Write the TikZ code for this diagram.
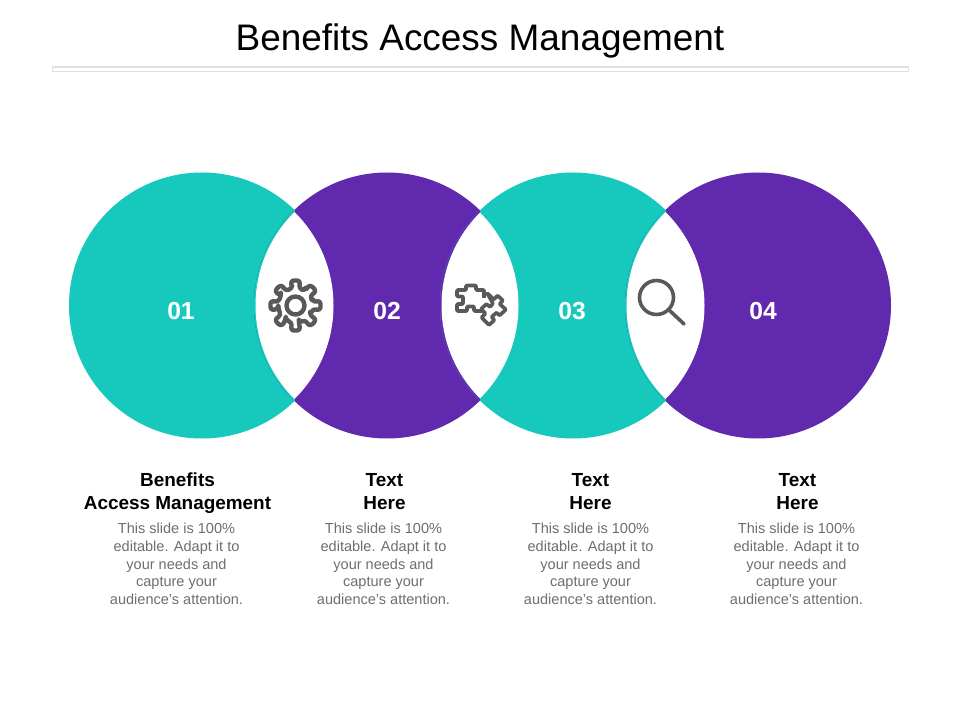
\documentclass[tikz,border=0pt]{standalone}
\usepackage{fontspec}
\setmainfont{Liberation Sans}
\definecolor{teal}{HTML}{16C9BC}
\definecolor{purp}{HTML}{612AAE}
\definecolor{icon}{HTML}{595959}
\definecolor{body}{HTML}{6E6E6E}
\definecolor{rule}{HTML}{E0E0E0}
\tikzset{
  num/.style={text=white,font=\fontsize{18.5}{20}\selectfont\bfseries,inner sep=0pt},
  head/.style={text=black,align=center,font=\fontsize{14.2}{17.2}\selectfont\bfseries,inner sep=0pt},
  copytext/.style={text=body,align=center,font=\fontsize{10.9}{13.2}\selectfont,inner sep=0pt},
  glyph/.style={draw=icon,line width=2.7pt,line join=round}
}
\begin{document}
\begin{tikzpicture}[x=0.75pt,y=-0.75pt]
\useasboundingbox (0,0) rectangle (960,720);
\fill[white] (0,0) rectangle (960,720);
\node[text=black,font=\fontsize{27.7}{30}\selectfont,inner sep=0pt] (title) at (480,41) {Benefits Access Management};
\draw[rule,line width=0.8pt] (52.5,67) rectangle (908.5,71.5);
\fill[teal] (202,305.5) circle [radius=133];
\fill[purp] (387,305.5) circle [radius=133];
\fill[teal] (573,305.5) circle [radius=133];
\fill[purp] (758,305.5) circle [radius=133];
\foreach \l/\r/\cl/\cr in {202/387/teal/purp,387/573/purp/teal,573/758/teal/purp} {
  \begin{scope}
    \clip (\l,305.5) circle [radius=133];
    \clip (\r,305.5) circle [radius=133];
    \fill[\cl] (\l,150) rectangle ({(\l+\r)/2},460);
    \fill[\cr] ({(\l+\r)/2},150) rectangle (\r,460);
  \end{scope}
  \begin{scope}
    \clip (\l,305.5) circle [radius=131.5];
    \fill[white] (\r,305.5) circle [radius=131.5];
  \end{scope}
}
\node[num] (n1) at (181,311) {01};
\node[num] (n2) at (387,311) {02};
\node[num] (n3) at (572,311) {03};
\node[num] (n4) at (763,311) {04};
% gear
\begin{scope}[shift={(295.5,305.5)}]
\draw[glyph,line width=3.3pt,rounded corners=2.4pt]
 \foreach \a in {0,45,...,315} {
  \ifnum\a=0 (\a-11:17.5) \else -- (\a-11:17.5) \fi
  -- (\a-11:25.5) -- (\a+11:25.5) -- (\a+11:17.5) -- (\a+34:17.5)
 } -- cycle;
\draw[glyph,line width=3.3pt] (0,0) circle [radius=9];
\end{scope}
% puzzle
\draw[glyph,rounded corners=0.6pt]
 (482,311) -- (474,311) -- (474,306.5) -- (467,306.5) -- (467,311) -- (457,311) -- (457,304) -- (463,304) -- (463,296.5) -- (457,296.5) -- (457,290) -- (466,290) -- (466,285.5) -- (476,285.5) -- (476,290) -- (484,290) -- (484,298);
\draw[glyph,rounded corners=0.6pt]
 (487,293) -- (494,299.5) -- (497.5,295.5) -- (503,300.5) -- (499.5,304) -- (506,309.5) -- (499.5,315.5) -- (496.5,312.5) -- (491.5,317) -- (494.5,320) -- (489,325) -- (481.5,317.5) -- (485.5,313.5) -- (481,309) -- (486.5,304) -- (490,307) -- (493,303.5) -- cycle;
% magnifier
\draw[glyph] (656.5,297.5) circle [radius=17];
\draw[glyph,line cap=round] (668.5,309.5) -- (684,324);
% texts
\node[head] (h1) at (177.5,493) {Benefits\\Access Management};
\node[head] (h2) at (384.5,492) {Text\\Here};
\node[head] (h3) at (590.5,492) {Text\\Here};
\node[head] (h4) at (797.5,492) {Text\\Here};
\foreach \x/\n in {176.5/c1,383.5/c2,590.5/c3,796.5/c4}
 \node[copytext] (\n) at (\x,564) {This slide is 100\%\\editable. Adapt it to\\your needs and\\capture your\\audience's attention.};
\end{tikzpicture}
\end{document}
